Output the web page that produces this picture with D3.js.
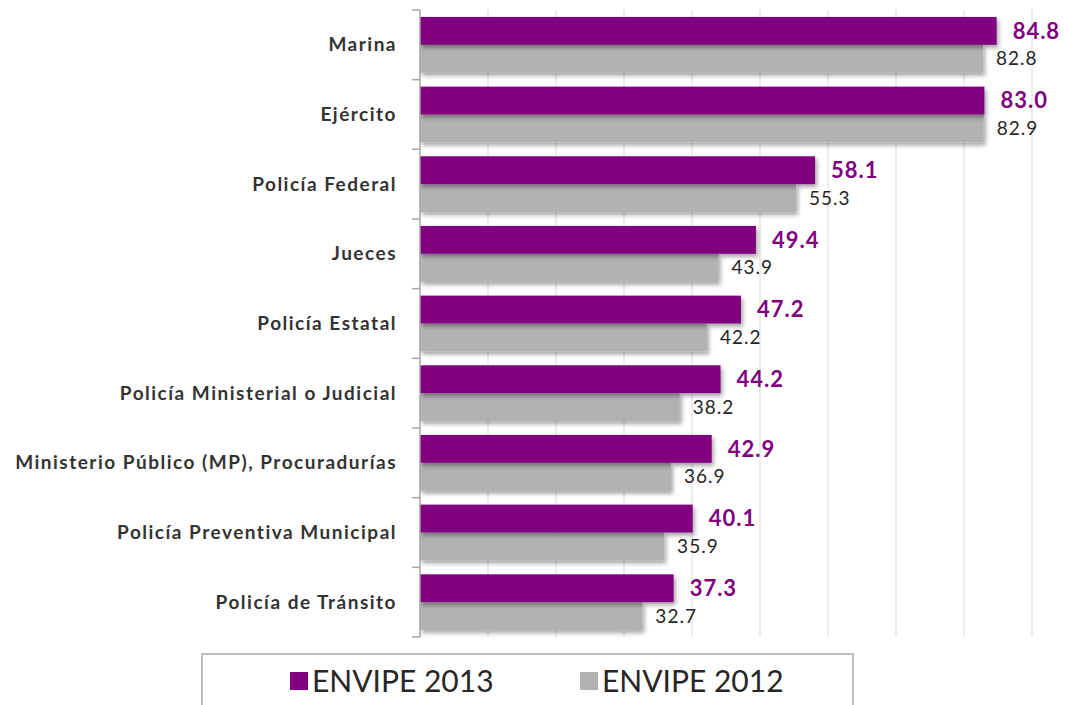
<!DOCTYPE html>
<html>
<head>
<meta charset="utf-8">
<script src="https://cdn.jsdelivr.net/npm/d3@7"></script>
<style>
  body { margin: 0; background: #fff; }
  svg { display: block; font-family: Lato, "Open Sans", sans-serif; }
</style>
</head>
<body>
<div id="chart"></div>
<script>
var categories = ["Marina", "Ejército", "Policía Federal", "Jueces", "Policía Estatal",
  "Policía Ministerial o Judicial", "Ministerio Público (MP), Procuradurías",
  "Policía Preventiva Municipal", "Policía de Tránsito"];
var series = ["ENVIPE 2013", "ENVIPE 2012"];
var values2013 = [84.8, 83.0, 58.1, 49.4, 47.2, 44.2, 42.9, 40.1, 37.3];
var values2012 = [82.8, 82.9, 55.3, 43.9, 42.2, 38.2, 36.9, 35.9, 32.7];
var gridTicks = [10, 20, 30, 40, 50, 60, 70, 80, 90];

var width = 1068, height = 705;
var colors = { "ENVIPE 2013": "#800080", "ENVIPE 2012": "#b2b2b2" };

var data = categories.map(function(c, i) {
  return { cat: c, vals: [
    { s: "ENVIPE 2013", v: values2013[i] },
    { s: "ENVIPE 2012", v: values2012[i] }
  ]};
});

var svg = d3.select("#chart").append("svg")
  .attr("width", width)
  .attr("height", height);

var defs = svg.append("defs");
var f = defs.append("filter").attr("id", "shadow")
  .attr("x", "-5%").attr("y", "-20%").attr("width", "115%").attr("height", "160%");
f.append("feDropShadow")
  .attr("dx", 2).attr("dy", 3)
  .attr("stdDeviation", 2)
  .attr("flood-color", "#000")
  .attr("flood-opacity", 0.35);

var x = d3.scaleLinear().domain([0, 90]).range([420, 1032]);
var y = d3.scaleBand().domain(categories).range([10, 637])
  .paddingInner(0.2).paddingOuter(0.1);
var ySub = d3.scaleBand().domain(series).range([0, y.bandwidth()]);

// gridlines
svg.append("g").selectAll("line")
  .data(gridTicks)
  .enter().append("line")
  .attr("x1", function(d) { return x(d); })
  .attr("x2", function(d) { return x(d); })
  .attr("y1", 10).attr("y2", 637)
  .attr("stroke", "#d9d9d9")
  .attr("stroke-width", 1);

// bars
var g = svg.selectAll(".cat")
  .data(data)
  .enter().append("g")
  .attr("class", "cat")
  .attr("transform", function(d) { return "translate(0," + y(d.cat) + ")"; });

// gray first so purple shadow sits under gray
g.selectAll("rect")
  .data(function(d) { return d.vals.slice().reverse(); })
  .enter().append("rect")
  .attr("x", x(0))
  .attr("y", function(d) { return ySub(d.s); })
  .attr("width", function(d) { return x(d.v) - x(0); })
  .attr("height", ySub.bandwidth())
  .attr("fill", function(d) { return colors[d.s]; })
  .attr("filter", "url(#shadow)");

// value labels
g.append("text")
  .attr("x", function(d) { return x(d.vals[0].v) + 16; })
  .attr("y", ySub("ENVIPE 2013") + ySub.bandwidth() / 2)
  .attr("dy", "0.35em")
  .attr("fill", "#800080")
  .style("font-size", "22px")
  .style("font-weight", "bold")
  .style("letter-spacing", "1px")
  .text(function(d) { return d.vals[0].v.toFixed(1); });

g.append("text")
  .attr("x", function(d) { return x(d.vals[1].v) + 13; })
  .attr("y", ySub("ENVIPE 2012") + ySub.bandwidth() / 2)
  .attr("dy", "0.35em")
  .attr("fill", "#262626")
  .style("font-size", "19px")
  .style("letter-spacing", "1px")
  .text(function(d) { return d.vals[1].v.toFixed(1); });

// category axis
var yAxis = svg.append("g");
yAxis.append("line")
  .attr("x1", 420).attr("x2", 420)
  .attr("y1", 10).attr("y2", 637)
  .attr("stroke", "#a6a6a6").attr("stroke-width", 1.5);

var bounds = categories.map(function(c) { return y(c) - y.step() * y.paddingInner() / 2; });
bounds.push(637);
bounds[0] = 10;
yAxis.selectAll(".tick")
  .data(bounds)
  .enter().append("line")
  .attr("x1", 412).attr("x2", 420)
  .attr("y1", function(d) { return d; })
  .attr("y2", function(d) { return d; })
  .attr("stroke", "#a6a6a6").attr("stroke-width", 1.5);

yAxis.selectAll(".lbl")
  .data(categories)
  .enter().append("text")
  .attr("x", 397)
  .attr("y", function(d) { return y(d) + y.bandwidth() / 2; })
  .attr("dy", "0.35em")
  .attr("text-anchor", "end")
  .attr("fill", "#333")
  .style("font-size", "19px")
  .style("font-weight", "bold")
  .style("letter-spacing", "1.5px")
  .text(function(d) { return d; });

// legend
var legend = svg.append("g");
legend.append("rect")
  .attr("x", 202).attr("y", 654)
  .attr("width", 651).attr("height", 70)
  .attr("fill", "#fff")
  .attr("stroke", "#bfbfbf").attr("stroke-width", 2);

var legendX = [290, 580];
series.forEach(function(s, i) {
  legend.append("rect")
    .attr("x", legendX[i]).attr("y", 672)
    .attr("width", 18).attr("height", 18)
    .attr("fill", colors[s]);
  legend.append("text")
    .attr("x", legendX[i] + 22).attr("y", 692)
    .attr("fill", "#262626")
    .style("font-size", "30px")
    .text(s);
});
</script>
</body>
</html>
